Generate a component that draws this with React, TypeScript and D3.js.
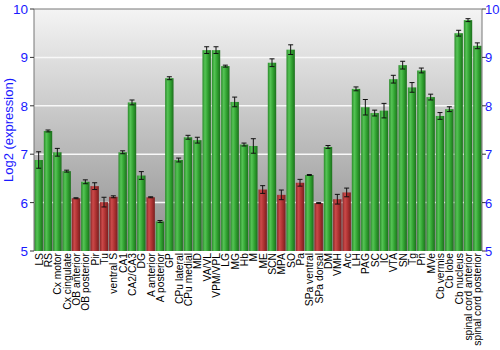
import React from "react";
import * as d3 from "d3";

const categories = ["LS","RS","Cx motor","Cx cingulate","OB anterior","OB posterior","Pir","Tu","ventral S","CA1","CA2/CA3","DG","A anterior","A posterior","GP","CPu lateral","CPu medial","MD","VA/VL","VPM/VPL","LG","MG","Hb","M","ME","SCN","MPA","SO","Pa","SPa ventral","SPa dorsal","DM","VMH","Arc","LH","PAG","SC","IC","VTA","SN","Tg","Pn","MVe","Cb vermis","Cb lobe","Cb nucleus","spinal cord anterior","spinal cord posterior"];
const values = [6.88,7.48,7.04,6.65,6.09,6.43,6.34,6.01,6.12,7.04,8.07,6.56,6.11,5.61,8.57,6.88,7.35,7.29,9.15,9.15,8.82,8.08,7.2,7.17,6.27,8.89,6.16,9.16,6.41,6.57,5.99,7.15,6.07,6.21,8.35,7.97,7.85,7.9,8.55,8.84,8.38,8.73,8.18,7.79,7.93,9.5,9.77,9.24];
const errors = [0.17,0.02,0.08,0.02,0.01,0.04,0.07,0.1,0.02,0.03,0.05,0.08,0.01,0.02,0.03,0.04,0.04,0.06,0.07,0.07,0.02,0.1,0.03,0.15,0.08,0.08,0.1,0.1,0.07,0.01,0.01,0.03,0.1,0.09,0.04,0.16,0.06,0.15,0.08,0.08,0.1,0.05,0.06,0.07,0.05,0.06,0.03,0.06];
const redSet = ["OB anterior","Pir","Tu","ventral S","A anterior","ME","MPA","Pa","SPa dorsal","VMH","Arc"];
const yTicks = [5,6,7,8,9,10];

export default function App() {
  const W = 500, H = 350;
  const left = 34, right = 482, top = 9, bottom = 251;
  const x = d3.scaleBand<string>().domain(categories).range([left, right]).paddingInner(0.1).paddingOuter(0.05);
  const y = d3.scaleLinear().domain([5, 10]).range([bottom, top]);
  const bw = x.bandwidth();
  const blue = "#1a1aff";
  return (
    <svg width={W} height={H} style={{ position: "absolute", left: 0, top: 0, fontFamily: "'Liberation Sans', Arial, sans-serif" }}>
      <defs>
        <linearGradient id="bg" x1="0" y1="0" x2="0" y2="1">
          <stop offset="0%" stopColor="#f4f4f4" />
          <stop offset="100%" stopColor="#8e8e8e" />
        </linearGradient>
        <linearGradient id="gG" x1="0" y1="0" x2="1" y2="0">
          <stop offset="0%" stopColor="#2b8a2b" />
          <stop offset="30%" stopColor="#55c455" />
          <stop offset="65%" stopColor="#2fa02f" />
          <stop offset="100%" stopColor="#1d6e1d" />
        </linearGradient>
        <linearGradient id="gR" x1="0" y1="0" x2="1" y2="0">
          <stop offset="0%" stopColor="#8a2626" />
          <stop offset="30%" stopColor="#cc4a4a" />
          <stop offset="65%" stopColor="#ab3030" />
          <stop offset="100%" stopColor="#772020" />
        </linearGradient>
      </defs>
      <rect x={left} y={top} width={right - left} height={bottom - top} fill="url(#bg)" />
      {yTicks.slice(1, -1).map(t => (
        <line key={"g" + t} x1={left} x2={right} y1={y(t)} y2={y(t)} stroke="#f8f8f8" strokeWidth={1.5} />
      ))}
      {categories.map((c, i) => {
        const bx = x(c)!;
        const red = redSet.includes(c);
        const v = values[i], e = errors[i];
        const cx = bx + bw / 2;
        return (
          <g key={c}>
            <rect x={bx} y={y(v)} width={bw} height={bottom - y(v)} fill={red ? "url(#gR)" : "url(#gG)"} />
            <line x1={cx} x2={cx} y1={y(v + e)} y2={y(v - e)} stroke="#111" strokeWidth={1} />
            <line x1={cx - 2.5} x2={cx + 2.5} y1={y(v + e)} y2={y(v + e)} stroke="#111" strokeWidth={1} />
            <line x1={cx - 2.5} x2={cx + 2.5} y1={y(v - e)} y2={y(v - e)} stroke="#111" strokeWidth={1} />
            <text transform={`translate(${cx + 4},${bottom + 2}) rotate(-90)`} textAnchor="end" fontSize={10.3} fill="#000">{c}</text>
          </g>
        );
      })}
      <line x1={left} x2={right} y1={top} y2={top} stroke="#777" />
      <line x1={left} x2={left} y1={top} y2={bottom} stroke="#777" />
      <line x1={right} x2={right} y1={top} y2={bottom} stroke="#777" />
      {yTicks.map(t => (
        <g key={"t" + t}>
          <line x1={left - 4} x2={left} y1={y(t)} y2={y(t)} stroke="#333" />
          <text x={left - 6} y={y(t) + 5} textAnchor="end" fontSize={13.5} fill={blue}>{t}</text>
          <line x1={right} x2={right + 4} y1={y(t)} y2={y(t)} stroke="#333" />
          <text x={right + 3} y={y(t) + 5} textAnchor="start" fontSize={13} fill={blue}>{t}</text>
        </g>
      ))}
      <text transform={`translate(13,${(top + bottom) / 2}) rotate(-90)`} textAnchor="middle" fontSize={13} fill={blue}>Log2 (expression)</text>
    </svg>
  );
}
